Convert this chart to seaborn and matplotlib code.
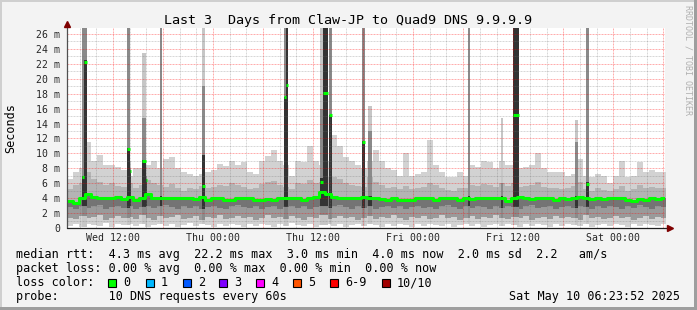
import numpy as np
import pandas as pd
import matplotlib
matplotlib.use("Agg")
import matplotlib.pyplot as plt
from matplotlib.patches import Rectangle
import seaborn as sns

# ---------------- data ----------------
T_START = 6.5      # hours since Wed 00:00
T_END = 78.2
STEP_H = 0.72

# smoke envelope per time step (ms)
mx = [6.5, 7.5, 8.0, 11.5, 9.0, 9.8, 8.4, 8.5, 8.2, 7.8,
      7.0, 8.0, 8.0, 8.5, 9.0, 8.0, 9.2, 9.5, 8.0, 7.5,
      7.3, 7.0, 7.2, 7.5, 7.8, 8.6, 8.3, 9.0, 8.5, 8.8,
      7.5, 7.3, 9.0, 9.6, 10.5, 9.0, 8.5, 7.0, 9.0, 8.8,
      11.0, 9.0, 8.4, 9.0, 12.5, 11.0, 9.5, 9.0, 8.5, 8.0,
      9.0, 10.5, 9.0, 8.0, 7.8, 7.0, 10.0, 7.0, 7.3, 7.5,
      11.8, 8.5, 7.5, 6.8, 6.8, 7.5, 7.0, 8.5, 8.2, 9.0,
      8.8, 8.0, 9.0, 8.5, 8.5, 8.0, 8.2, 8.5, 10.0, 8.0,
      7.5, 7.5, 7.5, 7.0, 7.2, 9.3, 7.0, 6.8, 7.2, 7.0,
      6.0, 7.0, 9.0, 6.8, 7.0, 8.9, 7.5, 7.8, 7.5, 7.5]
p3 = [5.2, 5.8, 6.0, 7.5, 6.5, 6.2, 5.8, 6.0, 5.6, 5.5,
      6.0, 5.4, 5.8, 6.4, 6.0, 5.8, 5.5, 5.9, 5.3, 5.0,
      5.4, 5.2, 5.6, 5.3, 5.5, 5.8, 5.6, 6.0, 5.7, 5.5,
      5.2, 5.4, 5.9, 6.2, 6.3, 5.8, 5.5, 5.2, 6.0, 5.9,
      6.4, 6.0, 6.2, 6.8, 6.9, 6.5, 6.0, 5.8, 5.6, 5.5,
      6.8, 6.2, 5.8, 5.4, 5.5, 5.2, 5.6, 5.2, 5.3, 5.5,
      6.0, 5.8, 5.3, 5.1, 5.0, 5.4, 5.3, 5.8, 5.6, 5.9,
      5.8, 5.5, 6.0, 5.6, 6.0, 5.5, 5.6, 5.8, 6.2, 5.5,
      5.4, 5.3, 5.2, 5.3, 5.6, 6.2, 5.2, 5.0, 5.3, 5.1,
      4.9, 5.2, 5.6, 5.0, 5.2, 5.8, 5.4, 5.5, 5.3, 5.4]
med = [3.6, 3.4, 4.0, 4.6, 4.2, 4.0, 4.0, 4.0, 4.1, 3.9,
       4.1, 3.7, 4.0, 4.6, 4.0, 4.0, 4.0, 4.0, 4.0, 4.0,
       4.0, 3.9, 4.1, 3.7, 4.0, 4.0, 3.8, 3.7, 4.0, 4.0,
       4.0, 3.8, 3.8, 3.9, 3.7, 4.0, 4.0, 4.0, 4.0, 3.7,
       4.0, 4.2, 4.8, 4.5, 4.2, 4.0, 4.0, 4.0, 4.0, 4.1,
       4.0, 4.0, 3.9, 3.8, 4.0, 3.8, 3.7, 3.8, 4.0, 4.0,
       4.0, 3.8, 4.0, 4.0, 4.0, 3.8, 4.0, 3.9, 4.0, 4.0,
       4.0, 4.0, 4.0, 3.6, 4.0, 4.1, 4.0, 3.9, 4.0, 4.0,
       4.0, 3.8, 4.0, 3.9, 4.0, 4.1, 4.0, 3.9, 4.0, 3.9,
       4.0, 4.0, 4.0, 3.8, 3.6, 3.9, 3.7, 4.0, 3.9, 4.0]
p2 = [2.8, 2.6, 3.0, 2.7, 2.9, 3.1, 2.6, 2.8, 3.0, 2.7,
      2.9, 2.5, 2.8, 3.0, 2.7, 2.9, 3.1, 2.8, 2.6, 3.0,
      2.7, 2.9, 2.5, 2.8, 3.0, 2.7, 2.6, 2.9, 3.1, 2.8,
      2.7, 3.0, 2.6, 2.8, 2.9, 2.5, 2.8, 3.0, 2.7, 2.9,
      2.6, 2.8, 3.0, 2.7, 2.9, 3.1, 2.8, 2.6, 3.0, 2.7,
      2.9, 2.5, 2.8, 3.0, 2.7, 2.9, 2.6, 2.8, 3.0, 2.7,
      2.8, 2.6, 2.9, 3.1, 2.8, 2.5, 2.9, 2.7, 3.0, 2.8,
      2.6, 2.9, 2.7, 3.0, 2.8, 2.6, 2.9, 3.1, 2.7, 2.8,
      3.0, 2.6, 2.8, 2.9, 2.7, 3.0, 2.8, 2.6, 2.9, 2.7,
      3.0, 2.8, 2.6, 2.9, 2.7, 3.1, 2.8, 2.6, 2.9, 2.8]
p1 = [1.4, 1.2, 1.6, 1.3, 1.5, 1.8, 1.1, 1.4, 1.6, 1.3,
      1.5, 1.2, 1.7, 1.4, 1.1, 1.6, 1.3, 1.5, 1.8, 1.2,
      1.4, 1.6, 1.1, 1.5, 1.3, 1.7, 1.2, 1.4, 1.6, 1.3,
      1.5, 1.1, 1.4, 1.7, 1.3, 1.5, 1.2, 1.6, 1.4, 1.1,
      1.5, 1.3, 1.7, 1.2, 1.4, 1.6, 1.3, 1.5, 1.1, 1.4,
      1.6, 1.2, 1.5, 1.3, 1.7, 1.4, 1.1, 1.5, 1.3, 1.6,
      1.2, 1.4, 1.7, 1.3, 1.5, 1.1, 1.4, 1.6, 1.2, 1.5,
      1.3, 1.7, 1.4, 1.2, 1.5, 1.3, 1.6, 1.1, 1.4, 1.5,
      1.2, 1.6, 1.3, 1.5, 1.4, 1.1, 1.7, 1.3, 1.5, 1.2,
      1.4, 1.6, 1.3, 1.5, 1.1, 1.4, 1.6, 1.2, 1.5, 1.3]
mn = [0.3, 0.5, 0.2, 0.6, 0.4, 0.3, 0.7, 0.2, 0.5, 0.4,
      0.6, 0.3, 0.5, 0.2, 0.4, 0.6, 0.3, 0.5, 0.2, 0.4,
      0.7, 0.3, 0.5, 0.4, 0.2, 0.6, 0.3, 0.5, 0.4, 0.2,
      0.5, 0.3, 0.6, 0.4, 0.2, 0.5, 0.3, 0.7, 0.4, 0.3,
      0.5, 0.2, 0.4, 0.6, 0.3, 0.5, 0.2, 0.4, 0.6, 0.3,
      0.5, 0.4, 0.2, 0.6, 0.3, 0.5, 0.4, 0.2, 0.5, 0.3,
      0.6, 0.4, 0.3, 0.5, 0.2, 0.4, 0.6, 0.3, 0.5, 0.2,
      0.4, 0.6, 0.3, 0.5, 0.4, 0.2, 0.6, 0.3, 0.5, 0.4,
      0.2, 0.5, 0.3, 0.6, 0.4, 0.3, 0.5, 0.2, 0.4, 0.6,
      0.3, 0.5, 0.4, 0.2, 0.6, 0.3, 0.5, 0.4, 0.3, 0.5]

# short latency spikes (hours since Wed 00:00, duration h, values ms)
sp_t = [8.24, 8.54, 13.64, 14.0, 15.5, 15.92, 17.6, 22.7, 32.54, 32.74,
        36.86, 37.22, 37.94, 41.9, 42.62, 54.62, 58.52, 60.02, 67.46, 68.78]
sp_w = [0.30, 0.36, 0.36, 0.18, 0.42, 0.18, 0.24, 0.30, 0.20, 0.24,
        0.36, 0.60, 0.36, 0.36, 0.48, 0.24, 0.24, 0.70, 0.30, 0.30]
sp_top = [27, 27, 27, 9.0, 23.4, 8.5, 27, 27, 27, 27,
          27, 27, 27, 27, 16.3, 27, 14.7, 27, 14.5, 27]
sp_mid = [27, 27, 27, 8.0, 14.7, 7.0, 27, 19.0, 27, 27,
          16.0, 27, 27, 27, 13.0, 27, 6.0, 27, 11.5, 27]
sp_dark = [7.0, 22.5, 10.7, 7.8, 9.1, 6.5, 4.3, 9.8, 17.6, 27,
           6.7, 27, 15.2, 11.6, 4.3, 4.3, 4.3, 27, 4.3, 6.2]
sp_med = [6.9, 22.2, 10.6, 7.7, 9.0, 6.4, 4.0, 5.6, 17.5, 19.1,
          6.2, 18.1, 15.1, 11.5, 4.0, 4.0, 4.0, 15.2, 4.0, 5.9]

tick_hours = [12, 24, 36, 48, 60, 72]
tick_labels = ["Wed 12:00", "Thu 00:00", "Thu 12:00", "Fri 00:00", "Fri 12:00", "Sat 00:00"]
ytick_vals = list(range(0, 27, 2))
ytick_labels = ["0" if v == 0 else f"{v} m" for v in ytick_vals]

loss_labels = ["0", "1", "2", "3", "4", "5", "6-9", "10/10"]
loss_colors = ["#00ff00", "#00b8ff", "#0059ff", "#7e00ff", "#ff00ff", "#ff5500", "#ff0000", "#a10000"]

title = "Last 3  Days from Claw-JP to Quad9 DNS 9.9.9.9"
line_rtt = "median rtt:  4.3 ms avg  22.2 ms max  3.0 ms min  4.0 ms now  2.0 ms sd  2.2   am/s"
line_loss = "packet loss: 0.00 % avg  0.00 % max  0.00 % min  0.00 % now"
line_probe = "probe:       10 DNS requests every 60s"
stamp = "Sat May 10 06:23:52 2025"

# ---------------- style ----------------
sns.set_style("white")
plt.rcParams["font.family"] = ["DejaVu Sans Mono"]
plt.rcParams["text.color"] = "black"

W, H = 697, 310
fig = plt.figure(figsize=(W / 100, H / 100), dpi=100, facecolor="#f3f3f3")


def fx(x):
    return x / W


def fy(y):
    return 1 - y / H


# 3D border
for (x0, y0, w, h, c) in [(0, 0, W, 2, "#cfcfcf"), (0, 0, 2, H, "#cfcfcf"),
                          (0, H - 3, W, 3, "#9e9e9e"), (W - 3, 0, 3, H, "#9e9e9e")]:
    fig.add_artist(Rectangle((fx(x0), fy(y0 + h)), w / W, h / H, transform=fig.transFigure,
                             facecolor=c, edgecolor="none", zorder=0))

ax = fig.add_axes([fx(67), fy(228), 598 / W, 200 / H])
ax.set_facecolor("white")
ax.set_xlim(T_START, T_END)
ax.set_ylim(0, 26.8)
for s in ax.spines.values():
    s.set_visible(False)

n = len(med)
edges = T_START + STEP_H * np.arange(n + 1)


def ext(a):
    a = np.asarray(a, float)
    return np.append(a, a[-1])


# smoke layers
ax.fill_between(edges, ext(mn), ext(mx), step="post", color="#d2d2d2", lw=0, zorder=1)
ax.fill_between(edges, ext(p1), ext(p3), step="post", color="#b4b4b4", lw=0, zorder=1.1)
ax.fill_between(edges, ext(p1), ext(med), step="post", color="#9a9a9a", lw=0, zorder=1.2)
ax.fill_between(edges, ext(p2), ext(med), step="post", color="#747474", lw=0, zorder=1.3)

# spikes
sp_t_a = np.array(sp_t)
idx = np.clip(((sp_t_a - T_START) / STEP_H).astype(int), 0, n - 1)
b_mn = np.array(mn)[idx]
b_p1 = np.array(p1)[idx]
b_p2 = np.array(p2)[idx]
ax.bar(sp_t, np.array(sp_top) - b_mn, bottom=b_mn, width=sp_w, align="edge",
       color="#c6c6c6", lw=0, zorder=2)
ax.bar(sp_t, np.array(sp_mid) - b_p1, bottom=b_p1, width=sp_w, align="edge",
       color="#8a8a8a", lw=0, zorder=2.1)
ax.bar(sp_t, np.array(sp_dark) - b_p2, bottom=b_p2, width=sp_w, align="edge",
       color="#333333", lw=0, zorder=2.2)

# grid
for h in np.arange(8, T_END, 2):
    col = (1, 0, 0, 0.32) if h % 6 == 0 else (0.45, 0.45, 0.45, 0.28)
    ax.axvline(h, color=col, lw=0.72, ls=(0, (2, 1)), zorder=3)
for v in range(1, 27):
    col = (1, 0, 0, 0.32) if v % 2 == 0 else (0.45, 0.45, 0.45, 0.28)
    ax.axhline(v, color=col, lw=0.72, ls=(0, (2, 1)), zorder=3)

# median line
df = pd.DataFrame({"t": edges, "median": ext(med)})
sns.lineplot(data=df, x="t", y="median", ax=ax, drawstyle="steps-post",
             color="#00ff00", lw=2.2, zorder=5, legend=False)
ax.hlines(sp_med, sp_t_a, sp_t_a + np.array(sp_w), color="#00ff00", lw=2.2, zorder=6)

# axes lines with arrows
ax.plot([T_START, T_START], [0, 27.2], color="#505050", lw=0.9, clip_on=False, zorder=7)
ax.plot([T_START, 78.75], [0, 0], color="#202020", lw=0.9, clip_on=False, zorder=7)
ax.plot([T_START], [27.35], marker="^", ms=4.2, color="#7f0000", clip_on=False, zorder=8)
ax.plot([78.8], [0], marker=">", ms=4.2, color="#7f0000", clip_on=False, zorder=8)

ax.set_xticks(tick_hours, tick_labels)
ax.set_xticks(np.arange(8, T_END, 2), minor=True)
ax.set_yticks(ytick_vals, ytick_labels)
ax.tick_params(axis="x", which="major", length=2, width=0.7, color="#ff7070",
               labelsize=7.1, pad=1.6, direction="out")
ax.tick_params(axis="x", which="minor", length=2, width=0.7, color="#b0b0b0", direction="out")
ax.tick_params(axis="y", which="major", length=1.5, width=0.7, color="#ff7070",
               labelsize=7.1, pad=3.5, direction="out")
ax.set_xlabel("")
ax.set_ylabel("")

# texts
fig.text(fx(348), fy(24), title, ha="center", va="baseline", fontsize=9.6)
fig.text(fx(11), fy(128), "Seconds", rotation=90, ha="center", va="center", fontsize=8.5)
fig.text(fx(688), fy(60), "RRDTOOL / TOBI OETIKER", rotation=270, ha="center", va="center",
         fontsize=6, color="#b0b0b0")

fs = 8.5
fig.text(fx(16), fy(258), line_rtt, ha="left", va="baseline", fontsize=fs)
fig.text(fx(16), fy(272), line_loss, ha="left", va="baseline", fontsize=fs)
fig.text(fx(16), fy(286), "loss color:", ha="left", va="baseline", fontsize=fs)
fig.text(fx(16), fy(300), line_probe, ha="left", va="baseline", fontsize=fs)
fig.text(fx(680), fy(300), stamp, ha="right", va="baseline", fontsize=fs)

sq_x = [108.3, 145.7, 182.7, 219.3, 256, 292.7, 330, 381.7]
for x, lab, c in zip(sq_x, loss_labels, loss_colors):
    fig.add_artist(Rectangle((fx(x), fy(286.5)), 8 / W, 8 / H, transform=fig.transFigure,
                             facecolor=c, edgecolor="black", lw=0.8))
    fig.text(fx(x + 15), fy(286), lab, ha="left", va="baseline", fontsize=fs)

fig.savefig("out.png", dpi=100, facecolor=fig.get_facecolor())
